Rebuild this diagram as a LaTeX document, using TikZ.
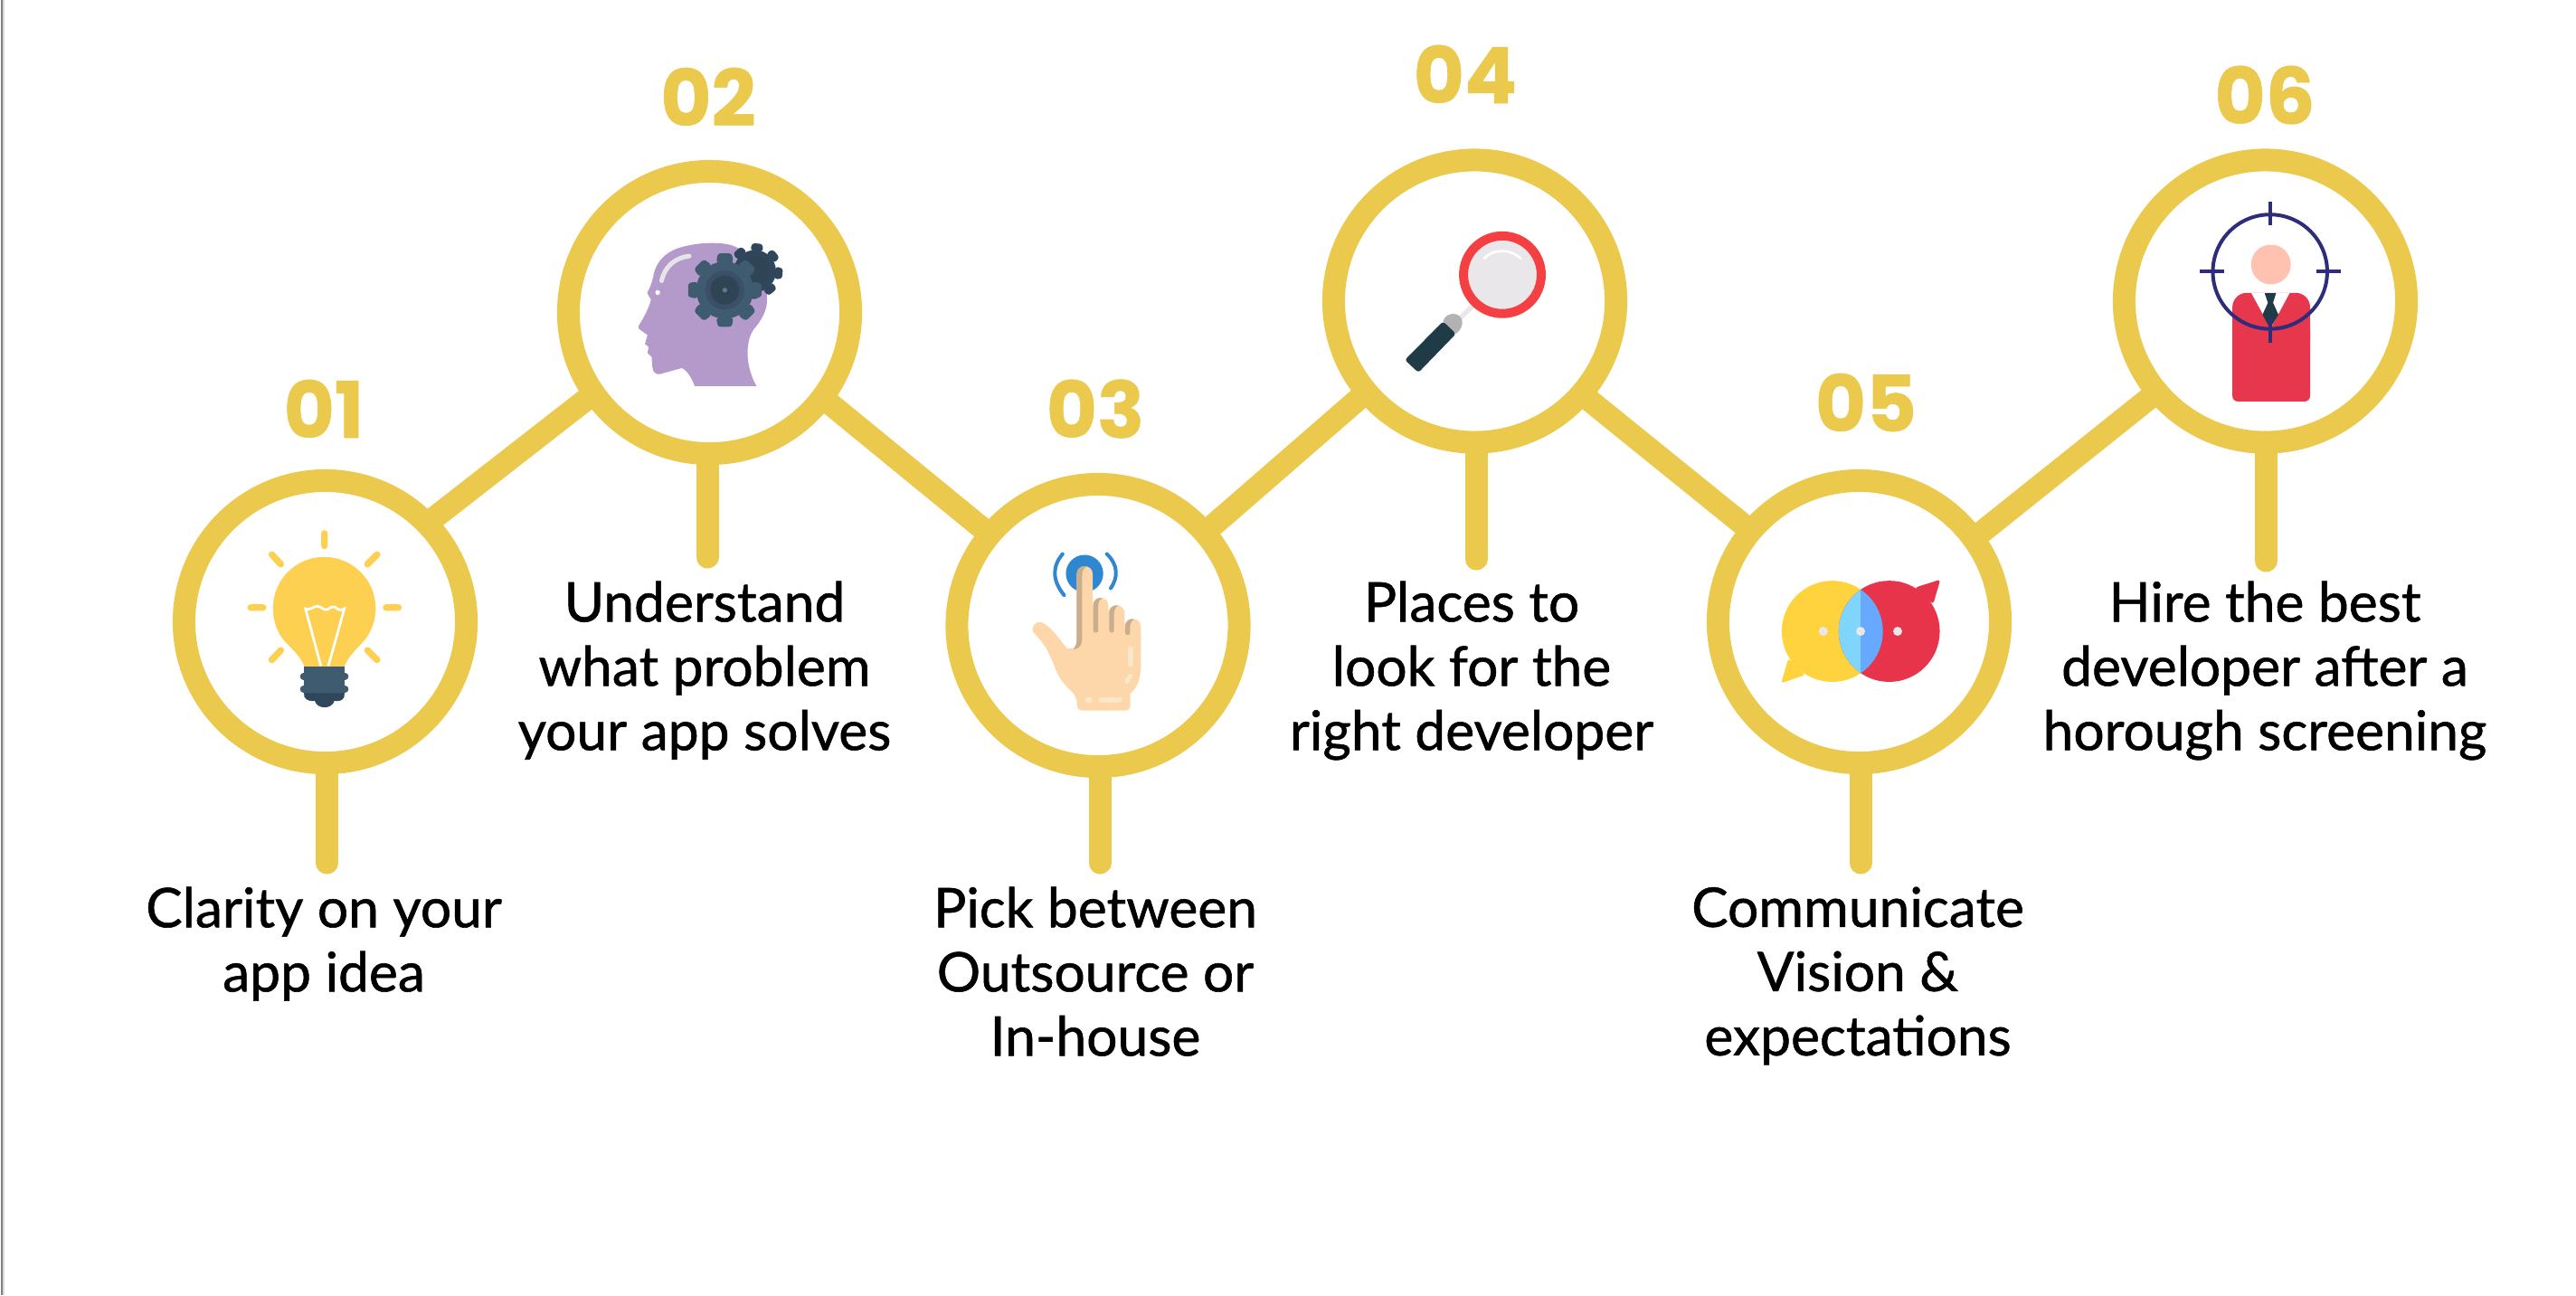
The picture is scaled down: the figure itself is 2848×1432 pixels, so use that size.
\documentclass[tikz,border=0pt]{standalone}
\usepackage{fontspec}
\setmainfont{Lato}[FakeBold=0.9]
\newfontfamily\numfont{Poppins}[BoldFeatures={FakeBold=0.7}]
\definecolor{ringyellow}{HTML}{EAC94D}
\definecolor{bulbyellow}{HTML}{FDD052}
\definecolor{basedark}{HTML}{3F5B70}
\definecolor{basedeep}{HTML}{30465A}
\definecolor{gearmid}{HTML}{3A5068}
\definecolor{gearcore}{HTML}{2F4455}
\definecolor{gearhub}{HTML}{5F7A8A}
\definecolor{headpurple}{HTML}{B49ACA}
\definecolor{skin}{HTML}{FDD7AA}
\definecolor{skinshade}{HTML}{C9AE8E}
\definecolor{skinlight}{HTML}{F8E8C8}
\definecolor{touchblue}{HTML}{2E87D0}
\definecolor{lensred}{HTML}{F44043}
\definecolor{lensgrey}{HTML}{E9E7EA}
\definecolor{handledark}{HTML}{1F3B45}
\definecolor{chatyellow}{HTML}{FFD33D}
\definecolor{chatred}{HTML}{E7344B}
\definecolor{chatcyan}{HTML}{7FD5FB}
\definecolor{chatblue}{HTML}{66A9FF}
\definecolor{facepink}{HTML}{FFC1B0}
\definecolor{suitred}{HTML}{E7374C}
\definecolor{targetblue}{HTML}{2E2D7C}
\tikzset{
    ring/.style={circle, draw=ringyellow, line width=0.25cm, fill=white,
        minimum size=3.12cm, inner sep=0pt, outer sep=0pt},
    link/.style={draw=ringyellow, line width=0.25cm},
    stem/.style={draw=ringyellow, line width=0.25cm, line cap=round},
    number/.style={text=ringyellow, inner sep=0pt,
        font=\numfont\bfseries\fontsize{24.5}{25}\selectfont},
    caption/.style={anchor=north, align=center, inner sep=0pt, text=black,
        font=\fontsize{17.2}{20.2}\selectfont},
    fine/.style={x=0.003333cm, y=-0.003333cm},
}
% gear: center x, center y, inner radius, outer radius, tilt, colour
\newcommand{\cogwheel}[6]{
    \fill[#6] (#1,#2) circle (#3);
    \foreach \a in {0,45,...,315}
        \fill[#6, rounded corners=0.3mm, shift={(#1,#2)}, rotate=\a+#5]
            (-0.30*#3,-0.96*#3) -- (-0.19*#4,-#4) -- (0.19*#4,-#4) -- (0.30*#3,-0.96*#3) -- cycle;
}
\begin{document}
\begin{tikzpicture}[x=0.01cm, y=-0.01cm]
    \useasboundingbox (0,0) rectangle (2848,1432);
    \fill[white] (0,0) rectangle (2848,1432);
    \fill[black!50] (1,0) rectangle (3,1432);
    \fill[black!15] (3,0) rectangle (5,1432);

    % ~~~~ Stem ends ~~~~ %
    \coordinate (end1) at (361.5,954);
    \coordinate (end2) at (782,616);
    \coordinate (end3) at (1216,954);
    \coordinate (end4) at (1632,618);
    \coordinate (end5) at (2057,954);
    \coordinate (end6) at (2505,620);

    % ~~~~ Rings ~~~~ %
    \node[ring] (ring1) at (359.5,687.5) {};
    \node[ring] (ring2) at (784.5,345.5) {};
    \node[ring] (ring3) at (1214,691.5) {};
    \node[ring] (ring4) at (1630.5,333) {};
    \node[ring] (ring5) at (2055.5,687.5) {};
    \node[ring] (ring6) at (2504.5,333) {};

    % ~~~~ Links between rings ~~~~ %
    \draw[link] (ring1.44) -- (ring2.215);
    \draw[link] (ring2.-37) -- (ring3.140);
    \draw[link] (ring3.41) -- (ring4.220);
    \draw[link] (ring4.-41) -- (ring5.140);
    \draw[link] (ring5.36) -- (ring6.220);

    \draw[stem] (end1 |- ring1.south) -- (end1);
    \draw[stem] (end2 |- ring2.south) -- (end2);
    \draw[stem] (end3 |- ring3.south) -- (end3);
    \draw[stem] (end4 |- ring4.south) -- (end4);
    \draw[stem] (end5 |- ring5.south) -- (end5);
    \draw[stem] (end6 |- ring6.south) -- (end6);

    % ~~~~ Numbers ~~~~ %
    \node[number] (num1) at (358,452) {01};
    \node[number] (num2) at (783,107) {02};
    \node[number] (num3) at (1211,452) {03};
    \node[number] (num4) at (1620,82) {04};
    \node[number] (num5) at (2063,445) {05};
    \node[number] (num6) at (2504,105) {06};

    % ~~~~ Captions ~~~~ %
    \node[caption] (text1) at (358,980) {Clarity on your\\app idea};
    \node[caption] (text2) at (779,642) {Understand\\what problem\\your app solves};
    \node[caption] (text3) at (1211,980) {Pick between\\Outsource or\\In-house};
    \node[caption] (text4) at (1627,642) {Places to\\look for the\\right developer};
    \node[caption] (text5) at (2054,980) {Communicate\\Vision \&\\expectations};
    \node[caption] (text6) at (2504,642) {Hire the best\\developer after a\\horough screening};

    % ~~~~ Bulb ~~~~ %
    \begin{scope}[shift={(180,500)}, fine]
        \fill[bulbyellow] (470,712) .. controls (460,680) and (430,655) .. (405,628)
            .. controls (380,600) and (366,560) .. (366,518)
            .. controls (366,424) and (442,348) .. (536,348)
            .. controls (630,348) and (707,424) .. (707,518)
            .. controls (707,560) and (692,600) .. (667,628)
            .. controls (642,655) and (615,680) .. (603,712) -- cycle;
        \draw[white, line width=0.027cm] (525,710) -- (474,520)
            .. controls (490,528) and (500,510) .. (515,512)
            .. controls (530,514) and (535,528) .. (548,522)
            .. controls (560,510) and (575,512) .. (582,522)
            .. controls (590,526) and (597,524) .. (603,520) -- (550,710);
        \fill[basedark] (470,712) rectangle (603,805);
        \draw[basedark, line width=0.073cm, line cap=round] (467,745) -- (606,745);
        \draw[basedark, line width=0.073cm, line cap=round] (467,787) -- (606,787);
        \fill[basedeep] (470,800) -- (470,812) .. controls (475,826) and (495,828) .. (505,826)
            .. controls (512,855) and (562,855) .. (570,826)
            .. controls (585,828) and (598,826) .. (603,812) -- (603,800) -- cycle;
        \draw[bulbyellow, line width=0.073cm, line cap=round]
            (537,270) -- (537,311) (292,516) -- (333,516) (742,516) -- (783,516)
            (362,340) -- (392,372) (712,340) -- (680,372)
            (392,658) -- (362,690) (680,658) -- (712,690);
    \end{scope}

    % ~~~~ Head and gears ~~~~ %
    \begin{scope}[shift={(600,160)}, fine]
        \fill[headpurple] (505,802) .. controls (495,775) and (480,750) .. (462,742) -- (390,762)
            .. controls (375,765) and (365,755) .. (364,735) -- (362,705) -- (348,692)
            -- (352,672) -- (340,662) -- (348,632) -- (320,612) -- (318,603)
            .. controls (335,575) and (350,550) .. (360,515) -- (347,492)
            .. controls (360,470) and (365,450) .. (370,425)
            .. controls (385,375) and (420,350) .. (470,338)
            .. controls (520,325) and (590,322) .. (630,335)
            .. controls (700,360) and (745,430) .. (745,510)
            .. controls (748,550) and (725,585) .. (700,615)
            .. controls (675,650) and (670,730) .. (710,802) -- cycle;
        \draw[white!90!black, line width=0.05cm, line cap=round]
            (395,452) .. controls (405,405) and (440,375) .. (487,370);
        \fill[white] (382,491) circle (8);
        \cogwheel{705}{420}{70}{92}{-5}{basedeep}
        \fill[gearcore] (705,420) circle (48);
        \cogwheel{605}{483}{95}{122}{0}{basedark}
        \fill[gearmid] (605,483) circle (65);
        \fill[gearcore] (605,483) circle (48);
        \fill[gearhub] (605,483) circle (8);
    \end{scope}

    % ~~~~ Hand ~~~~ %
    \begin{scope}[shift={(1040,510)}, fine]
        \fill[touchblue] (478,373) circle (62);
        \draw[touchblue, line width=0.04cm, line cap=round]
            (405,308) .. controls (370,350) and (370,395) .. (410,445);
        \draw[touchblue, line width=0.04cm, line cap=round]
            (552,308) .. controls (590,345) and (590,385) .. (565,422);
        \fill[skin] (470,828) .. controls (458,828) and (453,820) .. (453,805)
            .. controls (452,780) and (440,770) .. (420,750)
            .. controls (385,715) and (380,680) .. (360,640)
            .. controls (345,605) and (322,585) .. (308,568)
            .. controls (298,550) and (315,530) .. (335,535)
            .. controls (370,550) and (400,600) .. (420,622) -- (452,622) -- (452,375)
            .. controls (452,340) and (505,340) .. (505,375) -- (505,480)
            .. controls (505,445) and (557,445) .. (557,480) -- (557,505)
            .. controls (557,470) and (611,470) .. (611,505) -- (611,550)
            .. controls (611,515) and (665,515) .. (665,550) -- (665,680)
            .. controls (665,725) and (650,755) .. (630,772) -- (630,805)
            .. controls (630,820) and (625,828) .. (615,828) -- cycle;
        \fill[skinshade] (452,378) .. controls (452,350) and (475,345) .. (488,350)
            .. controls (475,352) and (470,365) .. (470,380) -- (470,590)
            .. controls (470,610) and (460,625) .. (440,625)
            .. controls (448,615) and (452,605) .. (452,590) -- cycle;
        \foreach \dx/\dy/\low in {0/0/562, 53/25/562, 106/70/570}
            \fill[skinshade] (507+\dx,480+\dy) .. controls (507+\dx,458+\dy) and (525+\dx,450+\dy)
                .. (538+\dx,455+\dy) .. controls (528+\dx,458+\dy) and (523+\dx,470+\dy)
                .. (523+\dx,480+\dy) -- (523+\dx,\low) .. controls (523+\dx,\low+10) and (507+\dx,\low+10)
                .. (507+\dx,\low) -- cycle;
        \draw[skinlight, line width=0.06cm, line cap=round] (630,623) -- (630,676);
        \draw[skinlight, line width=0.05cm, line cap=round] (630,712) -- (619,731);
        \draw[skinlight, line width=0.06cm, line cap=round] (488,792) -- (496,792) (534,792) -- (594,792);
    \end{scope}

    % ~~~~ Magnifier ~~~~ %
    \begin{scope}[shift={(1460,160)}, fine]
        \draw[lensgrey, line width=0.053cm] (505,535) -- (465,575);
        \fill[lensgrey] (604,432) circle (114);
        \draw[lensred, line width=0.1cm] (604,432) circle (129);
        \draw[white, line width=0.027cm, line cap=round] (543,378) .. controls (575,345) and (630,345) .. (665,378);
        \fill[black!30] (407,587) .. controls (410,570) and (430,558) .. (450,563)
            .. controls (475,570) and (480,605) .. (450,628) -- cycle;
        \fill[handledark, rounded corners=0.3mm] (407,587) -- (450,628) -- (325,757) -- (280,715) -- cycle;
    \end{scope}

    % ~~~~ Speech bubbles ~~~~ %
    \begin{scope}[shift={(1880,510)}, fine]
        \fill[chatyellow] (438,565) circle (168);
        \fill[chatyellow, rounded corners=0.3mm] (292,655) -- (268,737) -- (348,710) -- cycle;
        \fill[chatred] (627,565) circle (168);
        \fill[chatred, rounded corners=0.3mm] (773,475) -- (797,393) -- (712,420) -- cycle;
        \begin{scope}
            \clip (438,565) circle (168);
            \clip (627,565) circle (168);
            \fill[chatcyan] (400,380) rectangle (532,750);
            \fill[chatblue] (532,380) rectangle (660,750);
        \end{scope}
        \foreach \px in {408,532,655}
            \fill[lensgrey] (\px,565) circle (15);
    \end{scope}

    % ~~~~ Person and target ~~~~ %
    \begin{scope}[shift={(2330,160)}, fine]
        \fill[suitred, rounded corners=0.6mm] (415,600) -- (415,853) -- (673,853) -- (673,600) -- cycle;
        \fill[suitred, rounded corners=1.6mm] (415,700) -- (415,492) -- (673,492) -- (673,700) -- cycle;
        \fill[white] (478,493) -- (605,493) -- (542,610) -- cycle;
        \fill[handledark] (522,493) -- (560,493) -- (550,525) -- (568,565) -- (540,610) -- (515,565) -- (533,525) -- cycle;
        \fill[facepink] (543,398) circle (66);
        \draw[targetblue, line width=0.04cm] (540,422) circle (190);
        \draw[targetblue, line width=0.04cm] (540,188) -- (540,268) (540,577) -- (540,657)
            (305,422) -- (387,422) (695,422) -- (776,422);
    \end{scope}
\end{tikzpicture}
\end{document}
